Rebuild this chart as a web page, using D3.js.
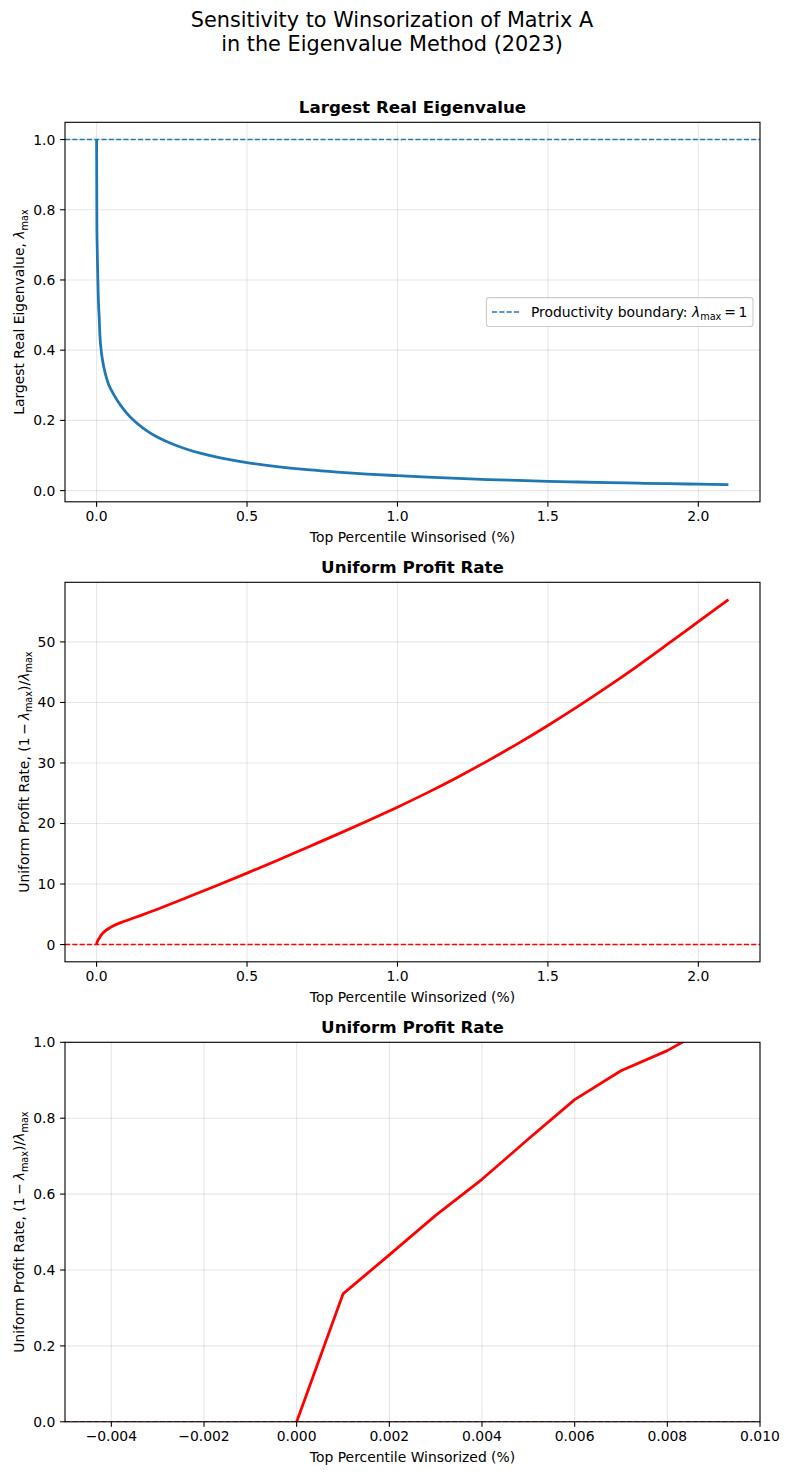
<!DOCTYPE html>
<html><head><meta charset="utf-8">
<script src="https://cdn.jsdelivr.net/npm/d3@7"></script>
<style>
body{margin:0;background:#fff}
svg{display:block}
text{font-family:"DejaVu Sans",sans-serif;fill:#000}
</style>
</head><body>
<svg id="chart" width="790" height="1475"></svg>
<script>
// ---------- data ----------
const winsorPct = [0,0.001,0.002,0.003,0.004,0.005,0.006,0.007,0.008,0.009,0.01,0.015,0.02,0.03,0.04,0.05,0.06,0.07,0.08,0.09,0.1,0.125,0.15,0.175,0.2,0.25,0.3,0.4,0.5,0.6,0.7,0.8,0.9,1.0,1.1,1.2,1.3,1.4,1.5,1.6,1.7,1.8,1.9,2.0,2.1];
const lambdaMax = [1.0,0.748,0.694,0.648,0.610,0.573,0.541,0.519,0.506,0.489,0.462,0.402,0.370,0.330,0.3025,0.2847,0.2691,0.2552,0.2426,0.2312,0.2209,0.1988,0.1809,0.166,0.1534,0.1333,0.1178,0.0953,0.080,0.0686,0.0599,0.0529,0.0472,0.0425,0.0382,0.0346,0.0315,0.0288,0.0265,0.0245,0.0227,0.0211,0.0196,0.0184,0.0172];
const profitRate = [0,0.337,0.44,0.544,0.639,0.745,0.849,0.925,0.978,1.047,1.15,1.55,1.85,2.3,2.65,2.95,3.2,3.42,3.62,3.8,3.98,4.42,4.87,5.33,5.8,6.77,7.76,9.76,11.8,13.9,16.05,18.2,20.4,22.7,25.1,27.65,30.35,33.2,36.2,39.35,42.65,46.1,49.7,53.35,57.0];

const boundaryLambda = 1;
const zeroProfit = 0;

const xTicksMain = [0,0.5,1.0,1.5,2.0];
const yTicksLambda = [0,0.2,0.4,0.6,0.8,1.0];
const yTicksProfit = [0,10,20,30,40,50];
const xTicksZoom = [-0.004,-0.002,0,0.002,0.004,0.006,0.008,0.010];
const yTicksZoom = [0,0.2,0.4,0.6,0.8,1.0];
const zoomXLim = [-0.005,0.010];
const zoomYLim = [0,1];

const titleLines = ["Sensitivity to Winsorization of Matrix A","in the Eigenvalue Method (2023)"];

// ---------- layout ----------
const svg = d3.select("#chart");
const axL = 65, axR = 760, axH = 379.5;
const axTops = [122.3, 582.3, 1042.3];
const FS = 13.9;
const BLUE = "#1f77b4", RED = "#ff0000";

function padded(ext){ const m=(ext[1]-ext[0])*0.05; return [ext[0]-m, ext[1]+m]; }

// suptitle
svg.append("text").attr("x",392).attr("y",27.2).attr("text-anchor","middle")
  .style("font-size","20.8px").text(titleLines[0]);
svg.append("text").attr("x",392).attr("y",51.2).attr("text-anchor","middle")
  .style("font-size","20.8px").text(titleLines[1]);

const SUB = 3.2, SUBFS = FS*0.7;
function mathText(sel, parts){
  let shifted = false;
  parts.forEach(p=>{
    const t = sel.append("tspan").text(p.t);
    if(p.it) t.style("font-style","italic");
    if(p.sub){ t.style("font-size",SUBFS+"px"); if(!shifted){t.attr("dy",SUB); shifted=true;} }
    else if(shifted){ t.attr("dy",-SUB); shifted=false; }
  });
}

const lamParts = [{t:"λ",it:true},{t:"max",sub:true}];
const profitLabel = [{t:"Uniform Profit Rate, (1\u2009\u2212\u2009"}].concat(lamParts,[{t:")/"}],lamParts);

const panels = [
  { top: axTops[0], xs: d3.scaleLinear().domain(padded(d3.extent(winsorPct))).range([axL,axR]),
    ys: d3.scaleLinear().domain(padded(d3.extent(lambdaMax))).range([axTops[0]+axH, axTops[0]]),
    xt: xTicksMain, yt: yTicksLambda, xf: d3.format(".1f"), yf: d3.format(".1f"),
    series: lambdaMax, color: BLUE, ref: boundaryLambda, refColor: BLUE, curve: d3.curveMonotoneX,
    title: "Largest Real Eigenvalue", xlabel: "Top Percentile Winsorised (%)",
    ylabel: [{t:"Largest Real Eigenvalue, "}].concat(lamParts), legend:true },
  { top: axTops[1], xs: d3.scaleLinear().domain(padded(d3.extent(winsorPct))).range([axL,axR]),
    ys: d3.scaleLinear().domain(padded(d3.extent(profitRate))).range([axTops[1]+axH, axTops[1]]),
    xt: xTicksMain, yt: yTicksProfit, xf: d3.format(".1f"), yf: d3.format("d"),
    series: profitRate, color: RED, ref: zeroProfit, refColor: RED, curve: d3.curveMonotoneX,
    title: "Uniform Profit Rate", xlabel: "Top Percentile Winsorized (%)",
    ylabel: profitLabel },
  { top: axTops[2], xs: d3.scaleLinear().domain(zoomXLim).range([axL,axR]),
    ys: d3.scaleLinear().domain(zoomYLim).range([axTops[2]+axH, axTops[2]]),
    xt: xTicksZoom, yt: yTicksZoom, xf: d3.format(".3f"), yf: d3.format(".1f"),
    series: profitRate, color: RED, ref: zeroProfit, refColor: RED, curve: d3.curveLinear,
    title: "Uniform Profit Rate", xlabel: "Top Percentile Winsorized (%)",
    ylabel: profitLabel }
];

panels.forEach((p,i)=>{
  const top = p.top, bot = top+axH;
  const g = svg.append("g");
  const cid = "clip"+i;
  svg.append("clipPath").attr("id",cid).append("rect")
    .attr("x",axL).attr("y",top).attr("width",axR-axL).attr("height",axH);

  // grid
  const grid = g.append("g").attr("stroke","#b0b0b0").attr("stroke-opacity",0.3).attr("stroke-width",1.1);
  p.xt.forEach(v=>grid.append("line").attr("x1",p.xs(v)).attr("x2",p.xs(v)).attr("y1",top).attr("y2",bot));
  p.yt.forEach(v=>grid.append("line").attr("x1",axL).attr("x2",axR).attr("y1",p.ys(v)).attr("y2",p.ys(v)));

  const data = winsorPct.map((x,k)=>[x,p.series[k]]);
  const line = d3.line().curve(p.curve).x(d=>p.xs(d[0])).y(d=>p.ys(d[1]));
  g.append("path").attr("clip-path",`url(#${cid})`).datum(data).attr("d",line)
    .attr("fill","none").attr("stroke",p.color).attr("stroke-width",2.78)
    .attr("stroke-linejoin","round").attr("stroke-linecap","butt");

  // reference dashed line
  g.append("line").attr("clip-path",`url(#${cid})`)
    .attr("x1",axL).attr("x2",axR).attr("y1",p.ys(p.ref)).attr("y2",p.ys(p.ref))
    .attr("stroke",p.refColor).attr("stroke-width",1.39).attr("stroke-dasharray","5.1,2.2");

  // spines
  g.append("rect").attr("x",axL).attr("y",top).attr("width",axR-axL).attr("height",axH)
    .attr("fill","none").attr("stroke","#000").attr("stroke-width",1.1);

  // ticks
  p.xt.forEach(v=>{
    const x = p.xs(v);
    g.append("line").attr("x1",x).attr("x2",x).attr("y1",bot).attr("y2",bot+4.86).attr("stroke","#000").attr("stroke-width",1.1);
    g.append("text").attr("x",x).attr("y",bot+19.3).attr("text-anchor","middle").style("font-size",FS+"px").text(p.xf(v));
  });
  let maxW = 0;
  p.yt.forEach(v=>{
    const y = p.ys(v);
    g.append("line").attr("x1",axL-4.86).attr("x2",axL).attr("y1",y).attr("y2",y).attr("stroke","#000").attr("stroke-width",1.1);
    const t = g.append("text").attr("x",axL-9.7).attr("y",y+5.0).attr("text-anchor","end").style("font-size",FS+"px").text(p.yf(v));
    maxW = Math.max(maxW, t.node().getComputedTextLength());
  });

  // title
  g.append("text").attr("x",(axL+axR)/2).attr("y",top-9).attr("text-anchor","middle")
    .style("font-size","16.7px").style("font-weight","bold").text(p.title);
  // xlabel
  g.append("text").attr("x",(axL+axR)/2).attr("y",bot+39.8).attr("text-anchor","middle")
    .style("font-size",FS+"px").text(p.xlabel);
  // ylabel
  const yl = axL - 9.7 - maxW - 5.6 - 3.3;
  const yt = g.append("text").attr("transform",`translate(${yl},${(top+bot)/2}) rotate(-90)`)
    .attr("text-anchor","middle").style("font-size",FS+"px");
  mathText(yt, p.ylabel);

  // legend
  if(p.legend){
    const cy = (top+bot)/2;
    const lg = g.append("g");
    const box = lg.append("rect");
    const lt = lg.append("text").attr("y",cy+5.0).style("font-size",FS+"px");
    mathText(lt,[{t:"Productivity boundary: "}].concat(lamParts,[{t:"\u2009=\u20091"}]));
    const tw = lt.node().getComputedTextLength();
    const right = axR - 7;
    const left = right - (5.6 + 27.8 + 11.1 + tw + 5.6);
    lt.attr("x", left + 5.6 + 27.8 + 11.1);
    box.attr("x",left).attr("y",cy-14.4).attr("width",right-left).attr("height",28.8)
      .attr("rx",2.8).attr("fill","#fff").attr("fill-opacity",0.8).attr("stroke","#cccccc").attr("stroke-width",1.1);
    lg.append("line").attr("x1",left+5.6).attr("x2",left+5.6+27.8).attr("y1",cy).attr("y2",cy)
      .attr("stroke",BLUE).attr("stroke-width",1.39).attr("stroke-dasharray","5.1,2.2");
  }
});
</script>
</body></html>
